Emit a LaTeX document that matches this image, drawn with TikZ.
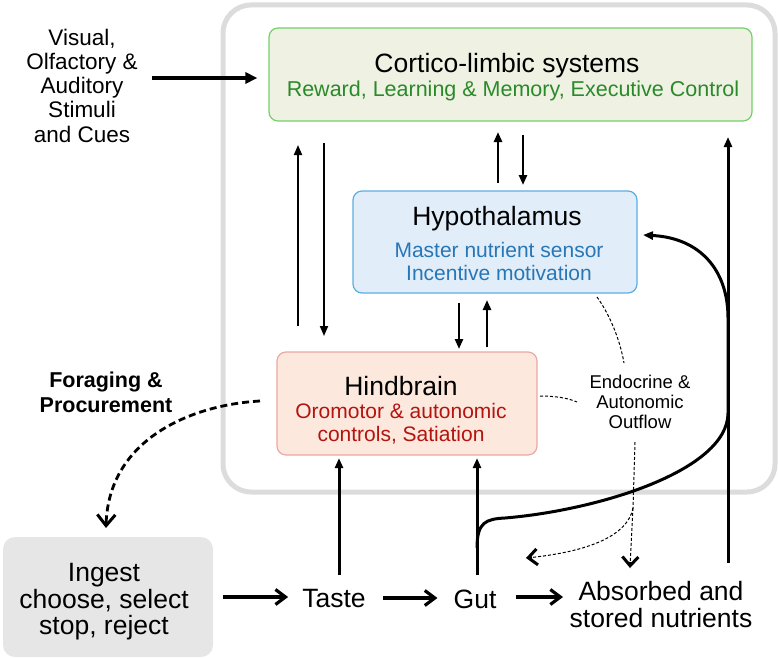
\documentclass[tikz,border=0pt]{standalone}
\usepackage{fontspec}
\setmainfont{Liberation Sans}
\usetikzlibrary{arrows.meta}
\definecolor{framegray}{HTML}{DCDCDC}
\definecolor{cfill}{HTML}{EFF1E3}
\definecolor{cborder}{HTML}{74D06A}
\definecolor{ctext}{HTML}{2A8A2A}
\definecolor{hfill}{HTML}{E1EEF9}
\definecolor{hborder}{HTML}{5CAEE2}
\definecolor{htext}{HTML}{2776B6}
\definecolor{bfill}{HTML}{FCE8DD}
\definecolor{bborder}{HTML}{ECA8A3}
\definecolor{btext}{HTML}{B3140F}
\definecolor{ifill}{HTML}{E6E6E6}
\begin{document}
\begin{tikzpicture}[x=1pt,y=-1pt,
  box/.style={rounded corners=9pt, line width=1.2pt, inner sep=0pt},
  titletext/.style={anchor=base, inner sep=0pt, font=\fontsize{26.5}{28}\selectfont},
  subtext/.style={anchor=north, inner sep=0pt, align=center, font=\fontsize{21}{23}\selectfont},
  bigtext/.style={inner sep=0pt, align=center, font=\fontsize{26.5}{26.5}\selectfont},
  solidtip/.style={-{Triangle[length=10pt,width=8pt]}},
  thinarrow/.style={solidtip, line width=1.8pt},
  medarrow/.style={solidtip, line width=2.6pt},
  thickarrow/.style={solidtip, line width=3pt},
  chevarrow/.style={-{Straight Barb[length=10pt,width=15pt]}, line width=3.2pt},
  thindash/.style={line width=1pt, dash pattern=on 3pt off 2pt},
  smallchev/.style={solid, line width=3pt, -{Straight Barb[length=9pt,width=16pt]}},
  bigchev/.style={solid, line width=3pt, -{Straight Barb[length=11pt,width=18pt]}}
]
\useasboundingbox (0,0) rectangle (778,658);

% outer frame
\node[draw=framegray, line width=5pt, rounded corners=28pt, minimum width=552pt, minimum height=487pt, inner sep=0pt] (frame) at (499,248.5) {};

% boxes
\node[box, draw=cborder, fill=cfill, minimum width=483pt, minimum height=93pt] (cortico) at (510.5,74.5) {};
\node[titletext] (corticoT) at (507,73) {Cortico-limbic systems};
\node[anchor=base, inner sep=0pt, font=\fontsize{21.5}{23}\selectfont, text=ctext] (corticoS) at (513,97) {Reward, Learning \& Memory, Executive Control};

\node[box, draw=hborder, fill=hfill, minimum width=284pt, minimum height=102pt] (hypo) at (495,242) {};
\node[titletext] (hypoT) at (497,225) {Hypothalamus};
\node[subtext, text=htext] (hypoS) at (499,241.9) {Master nutrient sensor\\Incentive motivation};

\node[box, draw=bborder, fill=bfill, minimum width=260pt, minimum height=103pt] (hind) at (407,403.5) {};
\node[titletext] (hindT) at (401,395) {Hindbrain};
\node[subtext, text=btext] (hindS) at (401,402.9) {Oromotor \& autonomic\\controls, Satiation};

\node[rounded corners=12pt, fill=ifill, minimum width=210pt, minimum height=120pt, inner sep=0pt] (ingest) at (108,597) {};
\node[bigtext, anchor=north] (ingestT) at (104,563.3) {Ingest\\choose, select\\stop, reject};

% free texts
\node[inner sep=0pt, align=center, anchor=north, font=\fontsize{22.5}{24.2}\selectfont] (stim) at (82,28.8) {Visual,\\Olfactory \&\\Auditory\\Stimuli\\and Cues};
\node[inner sep=0pt, align=center, anchor=north, font=\bfseries\fontsize{21.5}{25}\selectfont] (forage) at (106,371.5) {Foraging \&\\Procurement};
\node[inner sep=0pt, align=center, anchor=north, font=\fontsize{18.5}{20}\selectfont] (endo) at (640,374.7) {Endocrine \&\\Autonomic\\Outflow};
\node[titletext, inner sep=2pt] (taste) at (334,607) {Taste};
\node[titletext, inner sep=2pt] (gut) at (475,608) {Gut};
\node[bigtext, anchor=north] (absorbed) at (661,581.3) {Absorbed and\\stored nutrients};

% coordinates for free arrow ends
\coordinate (stimA) at (152,78);
\coordinate (lupB) at (298,326);
\coordinate (lupT) at (298,145);
\coordinate (ldnT) at (324,143);
\coordinate (ldnB) at (324,336);
\coordinate (cupB) at (498,183);
\coordinate (cupT) at (498,132);
\coordinate (cdnT) at (523,135);
\coordinate (cdnB) at (523,185);
\coordinate (hdnT) at (459,303);
\coordinate (hdnB) at (459,349);
\coordinate (hupB) at (487,347);
\coordinate (hupT) at (487,300);
\coordinate (tasteUp) at (339,575);
\coordinate (gutUp) at (477,575);
\coordinate (gutBranch) at (477,548);
\coordinate (rightB) at (728,563);
\coordinate (rightT) at (728,137);
\coordinate (hypoIn) at (643,235);
\coordinate (dashA) at (597,297);
\coordinate (dashB) at (624,363);
\coordinate (dashC) at (540,396);
\coordinate (dashD) at (577,402);
\coordinate (dashE) at (635,442);
\coordinate (dashF) at (633,508);
\coordinate (dashG) at (630,568);
\coordinate (dashGp) at (630.2,562);
\coordinate (dashH) at (526,558);
\coordinate (dashHp) at (532,557.4);
\coordinate (forS) at (260,401);
\coordinate (forE) at (106,528);
\coordinate (forEp) at (106.15,522);

% arrows
\draw[line width=3.6pt, -{Triangle[length=12pt,width=11pt]}, shorten >=11pt] (stimA) -- (stimA -| cortico.west);
\draw[thinarrow] (lupB) -- (lupT);
\draw[thinarrow] (ldnT) -- (ldnB);
\draw[medarrow] (cupB) -- (cupT);
\draw[medarrow] (cdnT) -- (cdnB);
\draw[medarrow] (hdnT) -- (hdnB);
\draw[medarrow] (hupB) -- (hupT);
\draw[thickarrow, shorten >=2.5pt] (tasteUp) -- (tasteUp |- hind.south);
\draw[thickarrow, shorten >=2.5pt] (gutUp) -- (gutUp |- hind.south);
\draw[thickarrow] (rightB) -- (rightT);
\draw[thickarrow] (gutBranch) .. controls (477,522) and (486,519) .. (505,518)
   .. controls (600,510) and (728,470) .. (728,413) -- (728,318)
   .. controls (728,270) and (700,238) .. (hypoIn);

\draw[chevarrow] ([xshift=10pt]ingest.east |- 0,597) -- ([xshift=-12pt]taste.west |- 0,597);
\draw[chevarrow] ([xshift=15pt]taste.east |- 0,598) -- ([xshift=-14pt]gut.west |- 0,598);
\draw[chevarrow] ([xshift=17pt]gut.east |- 0,597) -- (563,597);

% dashed
\draw[line width=2.8pt, dash pattern=on 7pt off 4pt, shorten >=3pt] (forS) .. controls (190,405) and (108,440) .. (forE);
\draw[bigchev] (forEp) -- (forE);
\draw[thindash] (dashA) .. controls (610,315) and (620,340) .. (dashB);
\draw[thindash] (dashC) .. controls (555,396) and (568,398) .. (dashD);
\draw[thindash] (dashE) -- (dashF);
\draw[thindash] (dashF) -- (dashG);
\draw[thindash] (dashF) .. controls (628,535) and (590,552) .. (dashH);
\draw[smallchev] (dashGp) -- (dashG);
\draw[smallchev] (dashHp) -- (dashH);
\end{tikzpicture}
\end{document}
